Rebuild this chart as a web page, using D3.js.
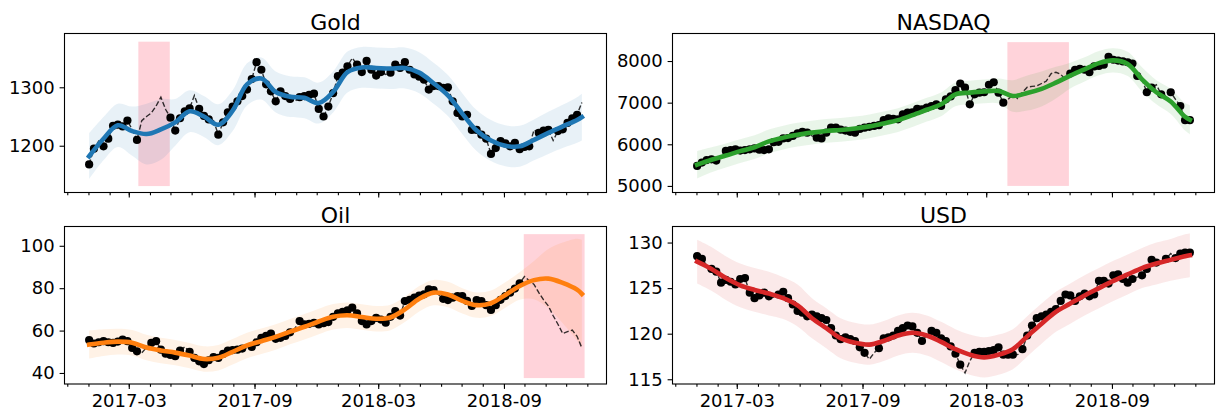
<!DOCTYPE html>
<html lang="en">
<head>
<meta charset="utf-8">
<title>GP fits: Gold, NASDAQ, Oil, USD</title>
<script src="https://cdn.jsdelivr.net/npm/d3@7"></script>
<style>
body { margin: 0; background: #fff; }
svg text { font-family: "DejaVu Sans", sans-serif; fill: #000; }
</style>
</head>
<body>
<div id="main"></div>
<script>
// weekly observations, starting on this Monday
const startDate = '2017-01-02';
const weekCount = 104;
const majorTicks = ['2017-03-01', '2017-09-01', '2018-03-01', '2018-09-01'];

// weeks at which the smooth fit (mean and half-width) was read
const gridWeeks = [0, 3, 6, 9, 12, 15, 18, 21, 24, 27, 30, 33, 36, 39, 42, 45, 48, 51,
  54, 57, 60, 63, 66, 69, 72, 75, 78, 81, 84, 87, 90, 93, 96, 99, 102, 103];

// ---- Gold
const goldValues = [1168, 1195, 1208, 1199, 1212, 1234, 1236, 1233, 1243, 1228, 1210, 1243, 1250, 1256,
  1268, 1283, 1262, 1248, 1226, 1247, 1259, 1264, 1286, 1263, 1251, 1245, 1243, 1219, 1240, 1257,
  1267, 1276, 1285, 1296, 1314, 1343, 1330, 1305, 1293, 1276, 1293, 1285, 1280, 1276, 1283, 1285,
  1287, 1289, 1263, 1250, 1267, 1290, 1319, 1325, 1336, 1350, 1339, 1326, 1345, 1330, 1320, 1326,
  1322, 1325, 1339, 1333, 1343, 1330, 1322, 1318, 1313, 1296, 1302, 1302, 1299, 1300, 1276, 1256,
  1250, 1253, 1227, 1227, 1219, 1212, 1186, 1196, 1208, 1204, 1199, 1205, 1194, 1198, 1199, 1227,
  1222, 1226, 1227, 1209, 1225, 1228, 1239, 1247, 1253, 1274];
const goldMissing = [2, 9, 22, 26, 43, 55, 62, 93, 97, 103];
const goldMean = [1182, 1212, 1235, 1225, 1220, 1228, 1240, 1259, 1250, 1236, 1260, 1305, 1315, 1292,
  1284, 1282, 1273, 1292, 1326, 1334, 1333, 1332, 1333, 1325, 1307, 1286, 1255, 1226, 1209, 1200,
  1199, 1210, 1222, 1233, 1244, 1249];
const goldSpread = [39, 37, 37, 42, 52, 52, 40, 36, 35, 35, 35, 36, 36, 35, 35, 35, 35, 35, 35, 35, 35,
  35, 35, 35, 35, 35, 35, 35, 35, 35, 35, 35, 36, 37, 39, 40];
const goldHold = ['2017-03-15', '2017-04-30'];
const goldHoldY = [1131, 1378];
const goldLimits = [1120, 1392];
const goldTicks = [1200, 1300];

// ---- NASDAQ
const nasdaqValues = [5480, 5560, 5620, 5640, 5610, 5700, 5840, 5860, 5880, 5850, 5860, 5880, 5900, 5870,
  5860, 5880, 6050, 6060, 6140, 6150, 6200, 6260, 6300, 6280, 6200, 6160, 6140, 6280, 6400, 6400,
  6350, 6330, 6300, 6280, 6370, 6400, 6420, 6440, 6460, 6580, 6620, 6610, 6600, 6720, 6760, 6770,
  6850, 6840, 6880, 6920, 6960, 6920, 7080, 7150, 7300, 7460, 7360, 6960, 7200, 7240, 7250, 7430,
  7490, 7240, 7000, 7080, 7190, 7100, 7250, 7370, 7390, 7400, 7460, 7520, 7700, 7730, 7680, 7560,
  7700, 7790, 7810, 7790, 7730, 7870, 7880, 7910, 8100, 8030, 8010, 7990, 7970, 7940, 7640, 7560,
  7250, 7360, 7430, 7200, 7160, 7250, 7080, 6920, 6580, 6580];
const nasdaqMissing = [5, 24, 93, 96, 98, 100];
const nasdaqMean = [5510, 5630, 5730, 5835, 5930, 6070, 6160, 6230, 6280, 6320, 6345, 6380, 6430, 6500,
  6580, 6700, 6830, 6960, 7200, 7240, 7270, 7280, 7160, 7230, 7330, 7480, 7650, 7800, 7950, 8015,
  7930, 7560, 7250, 7030, 6660, 6590];
const nasdaqSpread = [330, 300, 290, 285, 285, 285, 285, 285, 285, 285, 285, 285, 285, 285, 285, 285,
  285, 285, 285, 285, 285, 300, 380, 420, 420, 380, 310, 290, 290, 290, 290, 290, 290, 300, 330, 350];
const nasdaqHold = ['2018-04-01', '2018-06-30'];
const nasdaqHoldY = [5000, 8453];
const nasdaqLimits = [4842, 8661];
const nasdaqTicks = [5000, 6000, 7000, 8000];

// ---- Oil
const oilValues = [55.5, 53.9, 54.5, 55.0, 54.5, 54.2, 54.8, 55.8, 55.0, 51.8, 50.2, 49.5, 52.0, 54.2,
  55.0, 51.0, 49.1, 48.5, 47.9, 50.5, 52.3, 50.0, 47.1, 45.5, 44.2, 46.0, 47.5, 47.1, 49.0, 50.6,
  50.8, 51.0, 51.5, 52.0, 52.3, 54.5, 56.6, 57.5, 58.6, 56.1, 56.6, 57.5, 59.2, 61.0, 64.5, 62.9,
  63.2, 63.7, 62.9, 63.5, 64.0, 66.5, 68.1, 68.8, 69.5, 70.8, 68.1, 64.5, 62.9, 64.5, 66.0, 65.2,
  63.7, 66.5, 69.2, 67.1, 73.9, 74.5, 75.5, 76.5, 77.1, 79.5, 79.1, 77.0, 75.0, 74.4, 75.5, 76.3,
  76.3, 74.0, 71.6, 74.4, 73.9, 72.0, 69.7, 72.0, 74.5, 76.3, 77.9, 79.8, 82.3, 85.5, 83.5, 81.8,
  77.9, 74.5, 71.6, 67.0, 63.0, 58.6, 59.5, 60.2, 57.3, 51.8];
const oilMissing = [11, 12, 20, 33, 43, 73];
const oilMean = [53.4, 54.3, 54.8, 54.3, 52.0, 50.6, 49.6, 48.2, 46.6, 47.2, 50.0, 53.0, 55.0, 57.0,
  59.5, 61.8, 64.3, 66.5, 67.2, 66.4, 65.6, 66.2, 70.0, 75.0, 77.9, 77.0, 74.0, 72.0, 72.9, 76.8,
  81.0, 83.8, 84.5, 82.5, 79.3, 77.3];
const oilSpread = [6.6, 6.3, 6.1, 6.0, 6.0, 6.0, 6.0, 6.0, 6.0, 6.0, 6.0, 6.0, 6.0, 6.0, 6.0, 6.0, 6.0,
  6.0, 6.0, 6.0, 6.0, 6.0, 6.0, 6.0, 6.0, 6.0, 6.0, 6.0, 6.0, 6.0, 6.5, 9.0, 14.0, 19.0, 24.0, 25.5];
const oilHold = ['2018-09-30', '2018-12-28'];
const oilHoldY = [37.6, 105.5];
const oilLimits = [34.8, 109.1];
const oilTicks = [40, 60, 80, 100];

// ---- USD
const usdValues = [128.5, 128.2, 127.5, 127.1, 126.8, 125.6, 125.9, 125.7, 125.4, 126.0, 126.1, 124.5,
  123.9, 124.2, 124.5, 124.1, 124.0, 124.3, 124.6, 123.9, 123.2, 122.5, 122.3, 121.9, 122.1, 121.9,
  121.7, 121.5, 120.6, 119.8, 119.4, 119.6, 119.4, 119.2, 118.5, 117.9, 117.2, 117.9, 118.4, 119.5,
  119.6, 119.8, 120.3, 120.6, 120.9, 120.8, 120.1, 119.2, 119.8, 120.3, 120.1, 119.5, 119.2, 118.6,
  117.8, 116.6, 115.7, 117.0, 117.9, 118.0, 118.0, 118.1, 118.2, 118.5, 117.7, 117.7, 117.7, 117.7,
  118.3, 119.8, 120.9, 121.7, 121.9, 122.1, 122.4, 122.7, 123.6, 124.3, 124.2, 123.6, 124.1, 124.4,
  124.1, 124.3, 125.8, 125.8, 125.5, 126.4, 126.5, 126.0, 125.6, 126.0, 126.2, 126.4, 127.1, 128.1,
  127.8, 127.9, 128.2, 128.8, 128.3, 128.8, 128.9, 128.9];
const usdMissing = [2, 16, 36, 37, 48, 56, 57, 67, 92, 97, 99];
const usdMean = [127.9, 127.1, 126.1, 125.3, 124.8, 124.4, 123.9, 123.1, 121.7, 120.6, 119.5, 119.0,
  118.8, 119.2, 119.8, 120.1, 119.8, 119.1, 118.3, 117.7, 117.4, 117.7, 118.3, 119.7, 121.1, 122.4,
  123.3, 124.2, 125.0, 125.8, 126.5, 127.2, 127.7, 128.1, 128.5, 128.6];
const usdSpread = [2.4, 2.4, 2.4, 2.4, 2.4, 2.4, 2.3, 2.3, 2.2, 2.2, 2.2, 2.2, 2.2, 2.2, 2.2, 2.2, 2.2,
  2.2, 2.2, 2.2, 2.2, 2.2, 2.2, 2.2, 2.2, 2.2, 2.2, 2.2, 2.2, 2.2, 2.2, 2.2, 2.3, 2.3, 2.4, 2.4];
const usdLimits = [114.48, 131.76];
const usdTicks = [115, 120, 125, 130];

const panels = [
  { title: 'Gold', color: '#1f77b4', values: goldValues, missing: goldMissing, mean: goldMean,
    spread: goldSpread, hold: goldHold, holdY: goldHoldY, limits: goldLimits, ticks: goldTicks, row: 0, col: 0 },
  { title: 'NASDAQ', color: '#2ca02c', values: nasdaqValues, missing: nasdaqMissing, mean: nasdaqMean,
    spread: nasdaqSpread, hold: nasdaqHold, holdY: nasdaqHoldY, limits: nasdaqLimits, ticks: nasdaqTicks, row: 0, col: 1 },
  { title: 'Oil', color: '#ff7f0e', values: oilValues, missing: oilMissing, mean: oilMean,
    spread: oilSpread, hold: oilHold, holdY: oilHoldY, limits: oilLimits, ticks: oilTicks, row: 1, col: 0 },
  { title: 'USD', color: '#d62728', values: usdValues, missing: usdMissing, mean: usdMean,
    spread: usdSpread, hold: null, holdY: null, limits: usdLimits, ticks: usdTicks, row: 1, col: 1 }
];

const width = 1217;
const height = 411;
const colX = [64.5, 672.5];
const rowY = [33.5, 226.5];
const axW = 542;
const axH = [159, 157.5];
const tickLen = 4.9;
const minorLen = 2.8;
const tickFont = 18;

const parseDate = d3.utcParse('%Y-%m-%d');
const first = parseDate(startDate);
const dates = d3.range(weekCount).map(i => d3.utcDay.offset(first, 7 * i));
const last = dates[dates.length - 1];
const pad = (last - first) * 0.05;
const xDomain = [new Date(+first - pad), new Date(+last + pad)];
const minorDates = d3.utcMonth.range(d3.utcMonth.ceil(xDomain[0]), xDomain[1]);
const majorDates = majorTicks.map(parseDate);
const gridDates = gridWeeks.map(i => dates[i]);

const svg = d3.select('#main')
  .append('svg')
  .attr('width', width)
  .attr('height', height);

panels.forEach(p => {
  const h = axH[p.row];
  const g = svg.append('g')
    .attr('transform', `translate(${colX[p.col]}, ${rowY[p.row]})`);

  const x = d3.scaleUtc().domain(xDomain).range([0, axW]);
  const y = d3.scaleLinear().domain(p.limits).range([h, 0]);

  // held-out window
  if (p.hold) {
    const x0 = x(parseDate(p.hold[0]));
    const x1 = x(parseDate(p.hold[1]));
    g.append('rect')
      .attr('x', x0)
      .attr('y', y(p.holdY[1]))
      .attr('width', x1 - x0)
      .attr('height', y(p.holdY[0]) - y(p.holdY[1]))
      .attr('fill', 'pink')
      .attr('fill-opacity', 0.7);
  }

  // confidence band
  const band = d3.area()
    .x((d, i) => x(gridDates[i]))
    .y0((d, i) => y(d - p.spread[i]))
    .y1((d, i) => y(d + p.spread[i]))
    .curve(d3.curveCatmullRom);
  g.append('path')
    .datum(p.mean)
    .attr('d', band)
    .attr('fill', p.color)
    .attr('fill-opacity', 0.1);

  // true series
  const trueLine = d3.line()
    .x((d, i) => x(dates[i]))
    .y(d => y(d));
  g.append('path')
    .datum(p.values)
    .attr('d', trueLine)
    .attr('fill', 'none')
    .attr('stroke', '#000')
    .attr('stroke-opacity', 0.8)
    .attr('stroke-width', 1.4)
    .attr('stroke-dasharray', '5.2,2.3');

  // observed points
  const holdStart = p.hold ? parseDate(p.hold[0]) : null;
  const holdEnd = p.hold ? parseDate(p.hold[1]) : null;
  const observed = p.values
    .map((v, i) => ({ date: dates[i], value: v, i: i }))
    .filter(d => !p.missing.includes(d.i))
    .filter(d => !(p.hold && d.date >= holdStart && d.date <= holdEnd));
  g.selectAll('circle.obs')
    .data(observed)
    .enter()
    .append('circle')
    .attr('class', 'obs')
    .attr('cx', d => x(d.date))
    .attr('cy', d => y(d.value))
    .attr('r', 4.1)
    .attr('fill', '#000');

  // fitted mean
  const meanLine = d3.line()
    .x((d, i) => x(gridDates[i]))
    .y(d => y(d))
    .curve(d3.curveCatmullRom);
  g.append('path')
    .datum(p.mean)
    .attr('d', meanLine)
    .attr('fill', 'none')
    .attr('stroke', p.color)
    .attr('stroke-width', 4.6)
    .attr('stroke-linecap', 'square');

  // frame
  g.append('rect')
    .attr('x', 0)
    .attr('y', 0)
    .attr('width', axW)
    .attr('height', h)
    .attr('fill', 'none')
    .attr('stroke', '#000')
    .attr('stroke-width', 1.1);

  // y axis
  const yAxis = g.append('g')
    .call(d3.axisLeft(y).tickValues(p.ticks).tickSize(tickLen).tickPadding(4.9).tickFormat(d3.format('d')));
  yAxis.select('.domain').remove();

  // x axis, monthly minor ticks and half-year major ticks
  const minorAxis = g.append('g')
    .attr('transform', `translate(0, ${h})`)
    .call(d3.axisBottom(x).tickValues(minorDates).tickSize(minorLen).tickFormat(''));
  minorAxis.select('.domain').remove();

  const majorAxis = g.append('g')
    .attr('transform', `translate(0, ${h})`)
    .call(d3.axisBottom(x).tickValues(majorDates).tickSize(tickLen).tickPadding(4.9)
      .tickFormat(p.row === 1 ? d3.utcFormat('%Y-%m') : ''));
  majorAxis.select('.domain').remove();

  g.selectAll('.tick line').attr('stroke', '#000').attr('stroke-width', 1.1);
  g.selectAll('.tick text')
    .attr('font-size', tickFont)
    .attr('font-family', '"DejaVu Sans", sans-serif')
    .attr('fill', '#000');

  // title
  g.append('text')
    .attr('x', axW / 2)
    .attr('y', -4)
    .attr('text-anchor', 'middle')
    .attr('font-size', 22)
    .text(p.title);
});
</script>
</body>
</html>
